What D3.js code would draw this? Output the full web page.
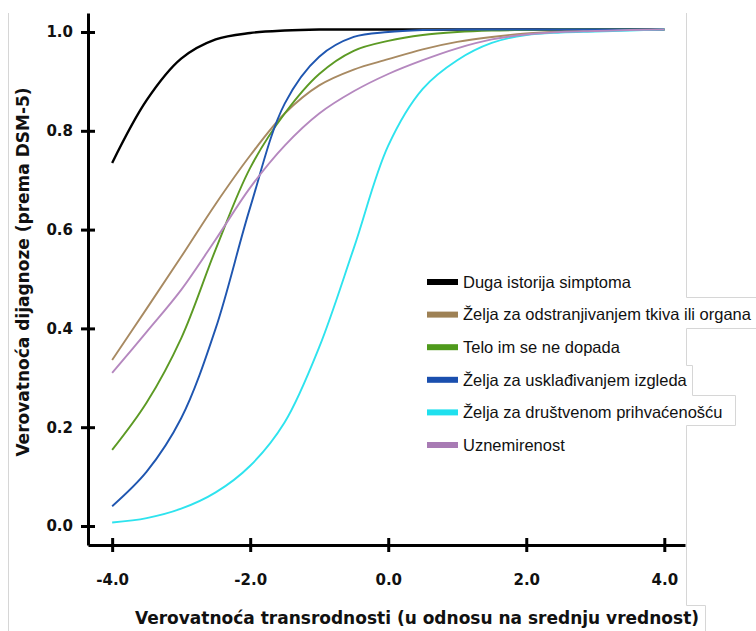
<!DOCTYPE html>
<html lang="sr">
<head>
<meta charset="UTF-8">
<title>Verovatnoća dijagnoze</title>
<style>
body { margin: 0; background: #fff; }
svg { display: block; }
.axis path, .axis line { stroke: #000; stroke-width: 3; }
.axis text { font-family: "DejaVu Sans", sans-serif; font-weight: 700; font-size: 15px; fill: #111; }
.title { font-family: "DejaVu Sans", sans-serif; font-weight: 700; font-size: 17px; fill: #111; }
.legend text { font-family: "Liberation Sans", Arial, sans-serif; font-size: 16.5px; fill: #111; }
.series { fill: none; }
</style>
</head>
<body>
<svg width="756" height="631"></svg>
<script src="https://cdnjs.cloudflare.com/ajax/libs/d3/7.8.5/d3.min.js"></script>
<script>

// x positions (shared by every series)
const xValues = [-4, -3.5, -3, -2.5, -2, -1.5, -1, -0.5, 0, 0.5, 1, 1.5, 2, 2.5, 3, 3.5, 4];

// series values
const dugaIstorija   = [0.735, 0.862, 0.946, 0.985, 0.998, 1.003, 1.005, 1.005, 1.005, 1.005, 1.005, 1.005, 1.005, 1.005, 1.005, 1.005, 1.005];
const odstranjivanje = [0.336, 0.44, 0.545, 0.652, 0.75, 0.835, 0.892, 0.924, 0.945, 0.965, 0.98, 0.99, 0.997, 1.001, 1.003, 1.004, 1.005];
const teloNeDopada   = [0.154, 0.25, 0.38, 0.56, 0.725, 0.835, 0.915, 0.962, 0.982, 0.994, 1.0, 1.003, 1.004, 1.005, 1.005, 1.005, 1.005];
const uskladjivanje  = [0.04, 0.11, 0.218, 0.40, 0.645, 0.855, 0.95, 0.99, 1.0, 1.004, 1.005, 1.005, 1.005, 1.005, 1.005, 1.005, 1.005];
const prihvacenost   = [0.007, 0.016, 0.035, 0.068, 0.122, 0.21, 0.362, 0.562, 0.77, 0.885, 0.943, 0.978, 0.994, 0.999, 1.001, 1.003, 1.005];
const uznemirenost   = [0.31, 0.393, 0.478, 0.58, 0.685, 0.77, 0.835, 0.88, 0.915, 0.943, 0.967, 0.985, 0.995, 1.0, 1.002, 1.004, 1.005];

const seriesNames = [
    'Duga istorija simptoma',
    'Želja za odstranjivanjem tkiva ili organa',
    'Telo im se ne dopada',
    'Želja za usklađivanjem izgleda',
    'Želja za društvenom prihvaćenošću',
    'Uznemirenost'
];
const seriesValues = [dugaIstorija, odstranjivanje, teloNeDopada, uskladjivanje, prihvacenost, uznemirenost];
const lineColors   = ['#000000', '#a88a62', '#5c9a24', '#1f56b0', '#2ee3ee', '#b588bf'];
const swatchColors = ['#000000', '#9e8155', '#4f9a1c', '#1a4fae', '#1fe0ee', '#a87bb4'];

// tick labels
const xTicks = [-4, -2, 0, 2, 4];
const yTicks = [0, 0.2, 0.4, 0.6, 0.8, 1.0];

const xTitle = 'Verovatnoća transrodnosti (u odnosu na srednju vrednost)';
const yTitle = 'Verovatnoća dijagnoze (prema DSM-5)';

var svg = d3.select('svg');

// axis lines run a little past the data range, like in the original
var x = d3.scaleLinear().domain([-4.35, 4.30]).range([88, 685]);
var y = d3.scaleLinear().domain([-0.0385, 1.0385]).range([545, 13]);

// plain hyphen, one decimal
let fmt = d => d.toFixed(1);

/*  frame lines left over from the source layout  */
svg.append('path')
    .attr('d', 'M8.5,13V631 M686.5,13V297.5H756 M686.5,328.5H756 M686.5,328.5V365.5H692.5V395.5H735.5V425.5H686.5V605.5H705.5V631')
    .attr('fill', 'none')
    .attr('stroke', '#d6d6d6')
    .attr('stroke-width', 1);

/*  legend  */
let legend = svg.append('g').attr('class', 'legend');
let rowY = d3.scalePoint().domain(seriesNames).range([282, 445]);

seriesNames.forEach((name, i) => {
    let g = legend.append('g').attr('transform', `translate(0, ${rowY(name)})`);
    g.append('rect')
        .attr('x', 427)
        .attr('y', -3)
        .attr('width', 31)
        .attr('height', 6)
        .attr('fill', swatchColors[i]);
    g.append('text')
        .attr('x', 463)
        .attr('dy', '0.35em')
        .text(name);
});

/*  series  */
let line = d3.line()
    .x((d, i) => x(xValues[i]))
    .y(d => y(d))
    .curve(d3.curveCatmullRom.alpha(0.5));

svg.append('g')
    .selectAll('path')
    .data(seriesValues)
    .join('path')
    .attr('class', 'series')
    .attr('stroke', (d, i) => lineColors[i])
    .attr('stroke-width', (d, i) => i === 0 ? 2.4 : 1.9)
    .attr('d', line);

/*  axes  */
let yAxis = svg.append('g')
    .attr('class', 'axis')
    .attr('transform', `translate(${x.range()[0]},0)`)
    .call(d3.axisLeft(y)
        .tickValues(yTicks)
        .tickFormat(fmt)
        .tickSizeInner(7)
        .tickSizeOuter(0)
        .tickPadding(8));
yAxis.selectAll('.tick line').attr('x1', -7).attr('x2', 7);

let xAxis = svg.append('g')
    .attr('class', 'axis')
    .attr('transform', `translate(0,${y.range()[0]})`)
    .call(d3.axisBottom(x)
        .tickValues(xTicks)
        .tickFormat(fmt)
        .tickSizeInner(7)
        .tickSizeOuter(0)
        .tickPadding(22));
xAxis.selectAll('.tick line').attr('y1', -7).attr('y2', 7);

/*  titles  */
svg.append('text')
    .attr('class', 'title')
    .attr('x', 417)
    .attr('y', 624)
    .attr('text-anchor', 'middle')
    .text(xTitle);

svg.append('text')
    .attr('class', 'title')
    .attr('transform', 'translate(29,272) rotate(-90)')
    .attr('text-anchor', 'middle')
    .text(yTitle);

</script>
</body>
</html>
